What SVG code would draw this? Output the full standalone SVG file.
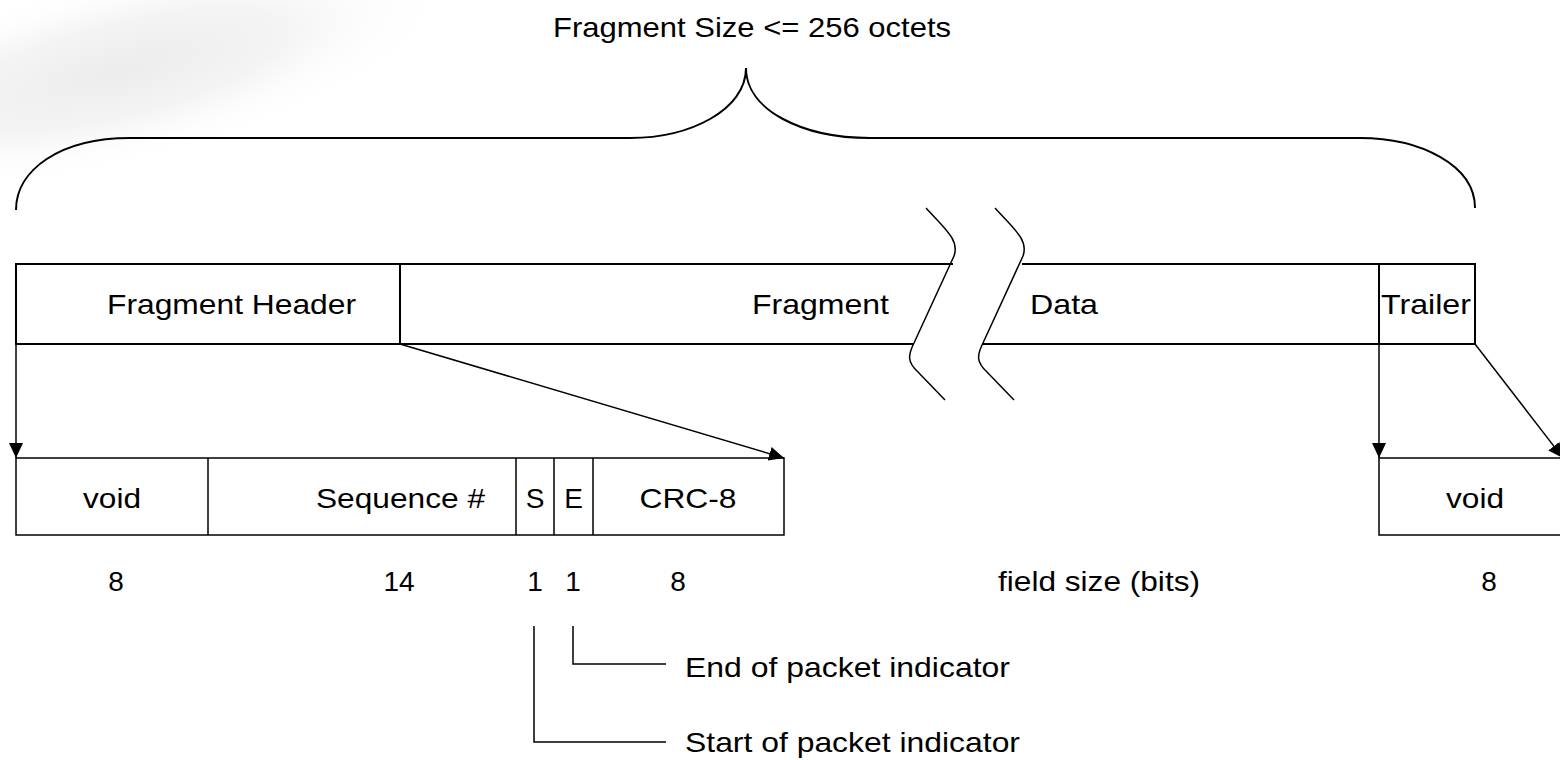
<svg xmlns="http://www.w3.org/2000/svg" width="1560" height="760" viewBox="0 0 1560 760">
  <defs>
    <style>
      text { font-family: "Liberation Sans", Arial, sans-serif; font-size: 28px; fill: #000; }
      .box { fill: none; stroke: #000; stroke-width: 2; }
      .thin { fill: none; stroke: #000; stroke-width: 1.5; }
      .conn { fill: none; stroke: #000; stroke-width: 1.5; }
      .brace { fill: none; stroke: #000; stroke-width: 2; }
      .mid { text-anchor: middle; }
    </style>
    <marker id="arrow" viewBox="0 0 15 14" refX="15" refY="7" markerWidth="15" markerHeight="14" markerUnits="userSpaceOnUse" orient="auto">
      <path d="M0,0 L15,7 L0,14 z" fill="#000"/>
    </marker>
    <radialGradient id="swoosh" cx="0.5" cy="0.5" r="0.5">
      <stop offset="0" stop-color="#ececec"/>
      <stop offset="0.5" stop-color="#f4f4f4"/>
      <stop offset="1" stop-color="#ffffff" stop-opacity="0"/>
    </radialGradient>
  </defs>

  <rect x="0" y="0" width="1560" height="760" fill="#fff"/>
  <ellipse cx="120" cy="70" rx="340" ry="95" transform="rotate(-14 120 70)" fill="url(#swoosh)"/>

  <g id="title">
    <text x="553" y="37" textLength="398" lengthAdjust="spacingAndGlyphs">Fragment Size &lt;= 256 octets</text>
  </g>

  <g id="brace">
    <path class="brace" d="M16,210 C16,170 60,138 130,138 L630,138 C690,138 746,110 746,68 C746,110 802,138 870,138 L1360,138 C1420,138 1475,165 1475,208"/>
  </g>

  <g id="fragment">
    <path class="box" d="M953,264 L16,264 L16,344 L913,344"/>
    <path class="box" d="M1022,264 L1475,264 L1475,344 L982,344"/>
    <line class="box" x1="400" y1="264" x2="400" y2="344"/>
    <line class="box" x1="1379" y1="264" x2="1379" y2="344"/>
    <text x="107" y="314" textLength="249" lengthAdjust="spacingAndGlyphs">Fragment Header</text>
    <text x="752" y="314" textLength="137" lengthAdjust="spacingAndGlyphs">Fragment</text>
    <text x="1030" y="314" textLength="68" lengthAdjust="spacingAndGlyphs">Data</text>
    <text x="1381" y="314" textLength="90" lengthAdjust="spacingAndGlyphs">Trailer</text>
  </g>

  <g id="break">
    <path class="thin" d="M926,208 C944,228 960,240 954,256 L914,343 C908,355 907,362 918,372 L945,400"/>
    <path class="thin" d="M995,208 C1013,228 1029,240 1023,256 L983,343 C977,355 976,362 987,372 L1014,400"/>
  </g>

  <g id="header">
    <rect class="thin" x="16" y="458" width="768" height="77"/>
    <line class="thin" x1="208" y1="458" x2="208" y2="535"/>
    <line class="thin" x1="516" y1="458" x2="516" y2="535"/>
    <line class="thin" x1="554" y1="458" x2="554" y2="535"/>
    <line class="thin" x1="593" y1="458" x2="593" y2="535"/>
    <text x="112" y="508" class="mid" textLength="58" lengthAdjust="spacingAndGlyphs">void</text>
    <text x="316" y="508" textLength="169" lengthAdjust="spacingAndGlyphs">Sequence #</text>
    <text x="535" y="508" class="mid">S</text>
    <text x="573.5" y="508" class="mid">E</text>
    <text x="688" y="508" class="mid" textLength="97" lengthAdjust="spacingAndGlyphs">CRC-8</text>
  </g>

  <g id="trailer">
    <path class="thin" d="M1562,458 L1379,458 L1379,535 L1562,535"/>
    <text x="1446" y="508" textLength="58" lengthAdjust="spacingAndGlyphs">void</text>
  </g>

  <g id="sizes">
    <text x="116" y="591" class="mid">8</text>
    <text x="399" y="591" class="mid">14</text>
    <text x="535" y="591" class="mid">1</text>
    <text x="573" y="591" class="mid">1</text>
    <text x="678" y="591" class="mid">8</text>
    <text x="998" y="591" textLength="202" lengthAdjust="spacingAndGlyphs">field size (bits)</text>
    <text x="1489" y="591" class="mid">8</text>
  </g>

  <g id="indicators">
    <path class="thin" d="M573,626 L573,664 L666,664"/>
    <path class="thin" d="M534,626 L534,742 L666,742"/>
    <text x="685" y="677" textLength="325" lengthAdjust="spacingAndGlyphs">End of packet indicator</text>
    <text x="685" y="752" textLength="335" lengthAdjust="spacingAndGlyphs">Start of packet indicator</text>
  </g>

  <g id="connectors">
    <line class="conn" x1="16" y1="344" x2="16" y2="458" marker-end="url(#arrow)"/>
    <line class="conn" x1="400" y1="344" x2="784" y2="458" marker-end="url(#arrow)"/>
    <line class="conn" x1="1379" y1="344" x2="1379" y2="458" marker-end="url(#arrow)"/>
    <line class="conn" x1="1475" y1="344" x2="1563" y2="458" marker-end="url(#arrow)"/>
  </g>
</svg>
